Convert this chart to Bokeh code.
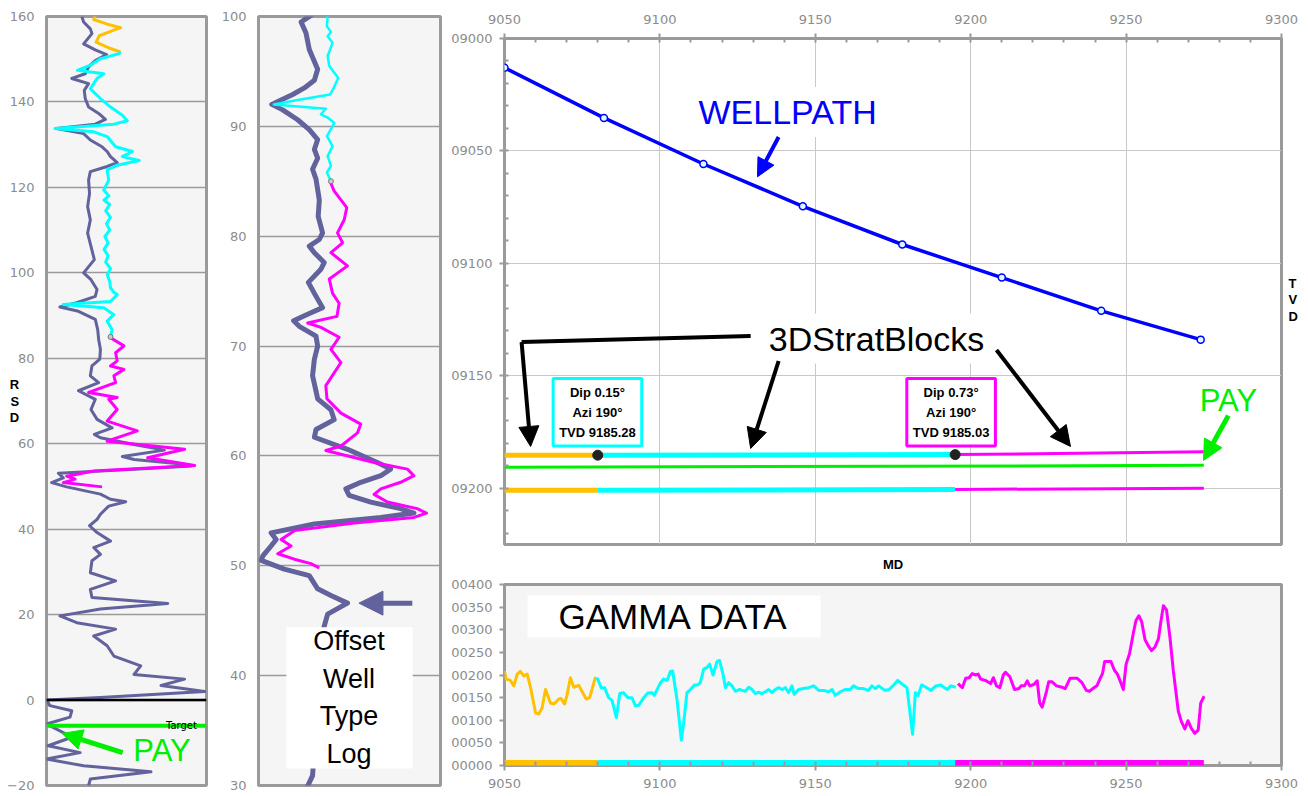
from bokeh.plotting import figure
from bokeh.layouts import row, column
from bokeh.models import (Range1d, Label, Arrow, NormalHead, Span, BoxAnnotation, LinearAxis,
                          CustomJSTickFormatter, SingleIntervalTicker, FixedTicker)
from bokeh.embed import file_html
from bokeh.resources import INLINE

# ---------------- data (depth, value) ----------------
# Left panel: RSD (relative stratigraphic depth) vs log value (0-100 scale)
LEFT_TYPELOG = [(160,22.1),(158.7,23.2),(157.1,27.4),(156,28.4),(153.6,23.2),(152.2,30.5),(151.1,37.5),
    (149.7,30.5),(148.2,26.3),(146.6,24.2),(145.5,15.8),(144.3,26.3),(142.7,23.6),(140.8,24.2),(138.8,26.3),
    (137.3,32.6),(135.9,36.8),(134.8,30.5),(133.8,6.3),(132.6,23.2),(131.1,27.4),(129.5,34.7),(128.4,37.9),
    (127.2,40),(125.8,44.2),(124.9,37.9),(123.7,27.4),(121.7,26.3),(118.6,26.9),(115.5,25.7),(112.4,27.4),
    (109.3,25.7),(106.2,27.8),(103.1,29.9),(100,23.2),(98.4,27.8),(96.1,31.6),(94.5,30.5),(93,18.9),(92,8.4),
    (91,20),(89.1,30.5),(86.7,32),(84.4,32.6),(82.1,33.7),(79.8,33.3),(78.2,28.4),(75.9,27.4),(74.3,32.6),
    (72.4,20),(70.4,30.5),(68,27.8),(65.7,31.6),(63.7,41),(62.2,29.9),(61.4,33.7),(59.8,54.7),(58.5,73.7),
    (57,47.4),(56.3,54.7),(55.2,86.3),(54.8,90.5),(54,54.7),(53.1,7.4),(52,10.5),(50.9,3.2),(49.9,12.6),
    (48.2,33.7),(47,40),(46.4,49.5),(45.4,38.9),(43.5,33.7),(42.3,31.6),(40.8,26.9),(39.2,31.6),(37.2,40),
    (35.7,29.5),(34.1,33.7),(32.6,28.4),(29.8,27.4),(27.9,43.2),(25.9,27.4),(24,28.4),(22.6,75.8),(21.3,33.7),
    (19.7,8.4),(18.1,18.9),(16.6,43.2),(15,29.5),(12.7,37.9),(10.3,42.1),(8,58.9),(6,54.7),(4.9,86.3),
    (3.4,71.6),(2,98.9),(0.6,33.7),(0,0),(-1.3,2.1),(-2.5,15.8),(-4,14.7),(-5.6,0),(-7.2,8.4),(-8.7,15.8),
    (-10.7,1),(-12.3,21),(-13.8,0),(-15.4,23.2),(-16.8,65.3),(-18.5,27.4),(-20,26.3)]
LEFT_ORANGE = [(160.2,30.5),(159.3,29.5),(158.2,38),(157.4,46.3),(156.5,40),(155.5,33),(154,31),
    (152.5,40),(151.7,46.3)]
LEFT_CYAN = [(151.7,46.3),(151.3,45.3),(150.1,33.7),(148.6,27.4),(147.4,19.4),(146.6,35.8),(145.5,31.6),
    (143.1,27.4),(140.8,33.7),(138.8,40),(136.9,47.4),(135.6,50.5),(134.8,42.1),(133.8,5.3),(133,29.5),
    (131.9,37.9),(129.5,43.2),(128.4,53.7),(127.2,47.4),(126.3,57.9),(125.2,44.2),(124.1,37.9),(121.7,38.9),
    (119.4,35.8),(118,39),(117,36),(116,39.5),(114.5,37),(113,40),(111.5,37.5),(110,39.5),(108.5,36.5),
    (107,38.5),(105.5,36),(104,38.5),(102.5,37),(101,40),(99.5,38),(98,39.5),(96.5,40),(95.5,42),(94.9,44.2),
    (93.3,40),(92.6,10.5),(91.8,35.8),(90.2,42.1),(88.7,37.9),(86.7,41),(85,40)]
LEFT_MAGENTA = [(84.8,40),(82.9,48.4),(81.3,43.2),(79.4,44.2),(78.2,40),(77.4,48.4),(75.9,42.1),(74.3,43.2),
    (72,26.3),(70.8,44.2),(70.4,38.9),(68,44.2),(65.3,37.9),(63,56.8),(60.6,37.9),(58.7,86.3),(56.7,63.2),
    (54.9,92.6),(53.6,29.5),(52.4,12.6),(51.7,17.9),(50.9,10.5),(49.9,34.7)]
TARGET_RSD = -6

# Middle panel: offset well type log (zoomed 30-100)
MID_TYPELOG = [(100.2,29.7),(99.5,23.4),(98.5,26.1),(97,27.9),(95.2,32.5),(94.2,30.7),(93.5,25.2),(92.9,18.8),
    (92.4,12.4),(92,7.3),(91.5,13.3),(90.6,21.5),(89.7,27.9),(88.8,32.5),(87.9,30.7),(87.1,32.5),(86.1,29.7),
    (85.2,31.6),(83.3,33.4),(81.8,32.8),(80.3,35.2),(79.7,33.4),(79.1,27.9),(78.5,30.7),(77.6,36.1),(77,34.3),
    (75.8,27.4),(74.8,30.7),(73.5,35.2),(72.9,27),(72.3,19.3),(71.8,22.4),(70.9,31.6),(70,32.5),(68.8,30.7),
    (67.3,29.7),(65.9,31.6),(65.2,32.5),(64.2,39.8),(63.3,41.6),(62.4,31.6),(61.7,30.7),(60.6,48.9),(59.4,65.3),
    (58.8,72.6),(58.2,67.2),(57.6,56.2),(57,48),(56.4,49.8),(55.8,61.7),(55.2,78.1),(54.8,85.4),(54.4,67.2),
    (53.8,30.7),(53,6.9),(52.4,9.7),(51.8,6.9),(50.9,2.4),(50.5,1.5),(49.7,14.2),(49.1,27.9),(47.9,32.5),
    (47.3,39.8),(46.6,48.9),(46.1,43.4),(45.6,38),(44.5,36.1),(42,34),(38,32),(34,31),(30.9,29.7),(29.8,26.6)]
MID_CYAN = [(100.2,38),(99.1,37.6),(98.6,39.8),(98.2,38),(97.6,40.7),(96.4,38),(95.5,38.9),(94.4,43.8),
    (93.6,41.6),(92.9,39.4),(92.4,21.5),(92,8.4),(91.6,37),(91.1,34.3),(90.8,38),(90.3,41.6),(89.1,37.6),
    (88.2,40.7),(87.3,38),(86.4,39.8),(85.8,37.6),(85,39.8)]
MID_MAGENTA = [(84.8,39.8),(84.1,41.6),(83.3,45.3),(82.6,48.5),(81.5,47.1),(80.3,43.4),(79.4,46.2),(78.5,39.8),
    (77.3,48.9),(76.1,38.9),(74.8,40.7),(73.9,44.3),(72.7,43.1),(72.1,27),(71.7,34.3),(70.8,44.3),(69.7,39.8),
    (68.5,45.3),(66.4,37),(65.2,37.6),(63.9,45.3),(62.9,56.2),(62.1,54.4),(60.9,45.3),(60.5,37),(59.4,63.5),
    (58.8,81.8),(58.2,85.4),(57.6,78.1),(57,67.2),(56.5,63.5),(55.8,70.8),(55.2,87.2),(54.8,92.3),(54.4,85.4),
    (53.9,52.6),(53.2,19.7),(52.4,12.4),(51.8,17.9),(51.1,10.6),(50.6,19.7),(50.2,28.8),(49.8,33.4)]

# Top-right: wellpath (MD, TVD)
WELL_MD = [9050, 9082, 9114, 9146, 9178, 9210, 9242, 9274]
WELL_TVD = [9013.0, 9035.3, 9055.8, 9074.6, 9091.6, 9106.3, 9121.1, 9133.9]

# 3D strat blocks
BLOCK_MD_START = [9050, 9080, 9195]
BLOCK_MD_END = [9080, 9195, 9275]
BLOCK_TOP_START = [9185.3, 9185.28, 9185.03]
BLOCK_TOP_END = [9185.28, 9185.03, 9183.8]
BLOCK_BASE_START = [9200.9, 9200.9, 9200.5]
BLOCK_BASE_END = [9200.9, 9200.5, 9200.0]
PAY_MD = [9050, 9275]
PAY_TVD = [9190.7, 9189.8]

# Gamma (MD, API)
GR_ORANGE = [(9050,209),(9050.5,191),(9051.9,188),(9053,176),(9054.1,202),(9055.1,208),(9056.2,198),
    (9057.3,202),(9058.4,172),(9060,116),(9061,114),(9062.1,127),(9063.2,168),(9064.8,138),(9065.9,136),
    (9067.5,147),(9068.2,148),(9069.3,136),(9070.1,155),(9071.2,194),(9072.3,173),(9073.9,177),(9075,163),
    (9076.3,147),(9077.4,150),(9079.3,196)]
GR_CYAN = [(9079.8,194),(9081.1,172),(9082.2,172),(9083.5,150),(9084.6,144),(9086,106),(9087.1,159),
    (9088.2,161),(9089.7,150),(9091,150),(9092.1,132),(9093.2,133),(9094.8,150),(9096.1,160),(9097.5,161),
    (9098.2,155),(9100.2,183),(9101.2,191),(9102.3,188),(9103.4,208),(9104.1,209),(9105.5,146),(9106.9,56),
    (9107.7,97),(9108.7,161),(9109.8,168),(9111.1,178),(9112.2,178),(9113,183),(9114.1,213),(9115.2,217),
    (9116,224),(9117.1,200),(9118.4,230),(9119.2,232),(9120.3,202),(9121.1,172),(9122.1,183),(9123.2,176),
    (9124.3,164),(9125.7,168),(9126.4,166),(9127.5,164),(9128.6,173),(9129.6,168),(9130.7,159),(9131.8,162),
    (9132.8,159),(9133.9,163),(9135,168),(9136.1,161),(9137.1,168),(9138.2,172),(9139.3,168),(9140.4,172),
    (9141.4,161),(9142.5,176),(9143.2,157),(9144.6,168),(9146.2,170),(9147.9,172),(9149.5,176),(9151.1,166),
    (9152.7,166),(9154.3,163),(9155.4,168),(9156.4,155),(9158.1,163),(9159.6,168),(9161.2,168),(9162.3,176),
    (9163.9,170),(9165.5,170),(9167.1,166),(9168.2,176),(9169.3,170),(9170.4,176),(9172.4,166),(9173.8,168),
    (9175.4,179),(9176.5,188),(9178.1,179),(9179.5,172),(9181.3,69),(9182.2,161),(9183.1,155),(9184.2,178),
    (9185.6,173),(9187.2,166),(9188.8,176),(9190.4,178),(9191.5,172),(9192.5,168),(9193.6,176),(9195.2,173)]
GR_MAGENTA = [(9195.9,181),(9197.3,172),(9198.4,193),(9199.5,194),(9200.5,203),(9201.6,200),(9202.4,202),
    (9203.2,191),(9204.8,188),(9206.4,181),(9207.3,194),(9208.3,176),(9209.4,172),(9210.5,200),(9211.2,206),
    (9212.6,196),(9214.1,168),(9215.5,170),(9216.2,176),(9217.3,176),(9218.2,187),(9219,176),(9220.3,179),
    (9221.4,187),(9222.2,138),(9223,129),(9224.4,164),(9225.1,185),(9226.2,185),(9227.6,176),(9229.4,173),
    (9230.4,170),(9232,193),(9234.2,193),(9235.8,183),(9237.2,166),(9238.2,164),(9239.3,170),(9240.6,176),
    (9241.7,193),(9242.4,203),(9243.1,230),(9244,230),(9245.1,230),(9246.2,211),(9247.2,202),(9248.3,183),
    (9249.1,168),(9250,224),(9251.1,247),(9252.4,295),(9253.2,321),(9254.1,331),(9255,318),(9256.1,278),
    (9257.1,265),(9258.2,254),(9259.3,262),(9260.4,280),(9261.1,314),(9262,353),(9263,344),(9264.1,284),
    (9265.2,209),(9266.8,120),(9267.8,97),(9268.9,81),(9269.9,99),(9271,82),(9272.1,71),(9273.2,78),
    (9274,138),(9275.1,153)]

BLOCK_LABELS = ["Dip 0.15°\nAzi 190°\nTVD 9185.28", "Dip 0.73°\nAzi 190°\nTVD 9185.03"]

# ---------------- styles ----------------
GRAY = "#9a9a9a"
TICK_TXT = "#8c8c8c"
PURPLE = "#62629c"
CYAN = "#00ffff"
MAGENTA = "#ff00ff"
ORANGE = "#ffc000"
GREEN = "#00ee00"
BLUE = "#0000ff"
BLOCK_COLORS = [ORANGE, CYAN, MAGENTA]
FONT = "Liberation Sans"
PAD5 = CustomJSTickFormatter(code="return String(Math.round(tick)).padStart(5, '0');")


def base_style(p, bg):
    p.background_fill_color = bg
    p.border_fill_color = "white"
    p.outline_line_color = GRAY
    p.outline_line_width = 3
    p.outline_line_alpha = 1.0


def axis_style(ax, standoff, tick_out=0, minor_in=0):
    ax.axis_line_color = None
    ax.major_label_text_font = "DejaVu Sans"
    ax.major_label_text_font_size = "13px"
    ax.major_label_text_color = TICK_TXT
    ax.major_label_standoff = standoff
    ax.major_tick_line_color = GRAY if tick_out else None
    ax.major_tick_line_width = 2
    ax.major_tick_out = tick_out
    ax.major_tick_in = 0
    ax.minor_tick_line_color = GRAY if minor_in else None
    ax.minor_tick_line_width = 2
    ax.minor_tick_in = minor_in
    ax.minor_tick_out = 0


def axis_title(ax, text, standoff, lh=1.2):
    ax.axis_label = text
    ax.axis_label_standoff = standoff
    ax.axis_label_text_font = FONT
    ax.axis_label_text_font_size = "13px"
    ax.axis_label_text_font_style = "bold"
    ax.axis_label_text_color = "black"
    ax.axis_label_text_line_height = lh


def label_axis(p, side, text, standoff, lh=1.2):
    ax = LinearAxis(ticker=FixedTicker(ticks=[]), axis_line_color=None,
                    major_tick_line_color=None, minor_tick_line_color=None,
                    major_label_standoff=0, major_tick_out=0, major_tick_in=0)
    axis_title(ax, text, standoff, lh)
    if side in ("left", "right"):
        ax.axis_label_orientation = "horizontal"
    p.add_layout(ax, side)


def lab(p, x, y, text, size, color="black", bold=False, bg=None, border=None, pad=0,
        lh=1.2, font=FONT, align="center"):
    kw = {}
    if bg:
        kw["background_fill_color"] = bg
        kw["background_fill_alpha"] = 1.0
    if border:
        kw["border_line_color"] = border
        kw["border_line_width"] = 3
    l = Label(x=x, y=y, text=text, text_font=font, text_font_size=f"{size}px",
              text_color=color, text_font_style="bold" if bold else "normal",
              text_align=align, text_baseline="middle", text_line_height=lh,
              padding=pad, **kw)
    p.add_layout(l)


def draw(p, pts, color, width):
    p.line([v for d, v in pts], [d for d, v in pts], line_color=color, line_width=width,
           line_join="round")


def arrow(p, x0, y0, x1, y1, color, width, head=None):
    end = NormalHead(size=head, fill_color=color, line_color=color, line_width=1) if head else None
    p.add_layout(Arrow(end=end, x_start=x0, y_start=y0, x_end=x1, y_end=y1,
                       line_color=color, line_width=width))


# ---------------- left panel ----------------
pl = figure(width=218, height=796, x_range=Range1d(0, 100), y_range=Range1d(-20, 160), title=None,
            x_axis_location=None, output_backend="svg", toolbar_location=None,
            min_border_left=46, min_border_right=12, min_border_top=16, min_border_bottom=11)
base_style(pl, "#f5f5f5")
pl.yaxis.ticker = SingleIntervalTicker(interval=20, num_minor_ticks=0)
axis_style(pl.yaxis, 12)
axis_title(pl.yaxis[0], "R\nS\nD", -15, lh=1.1)
pl.yaxis.axis_label_orientation = "horizontal"
pl.xgrid.visible = False
pl.ygrid.grid_line_color = GRAY
pl.ygrid.grid_line_width = 1.5

draw(pl, LEFT_TYPELOG, PURPLE, 3)
draw(pl, LEFT_ORANGE, ORANGE, 3)
draw(pl, LEFT_CYAN, CYAN, 3)
draw(pl, LEFT_MAGENTA, MAGENTA, 3)
pl.scatter([LEFT_CYAN[-1][1]], [LEFT_CYAN[-1][0]], size=5, fill_color="#cccccc",
           line_color="#777777", line_width=1)
pl.add_layout(Span(location=0, dimension="width", line_color="black", line_width=2.5))
pl.add_layout(Span(location=TARGET_RSD, dimension="width", line_color=GREEN, line_width=4))
lab(pl, 94, TARGET_RSD, "Target", 10, font="DejaVu Sans", align="right")
lab(pl, 72.2, -11.8, "PAY", 31, color=GREEN)
arrow(pl, 47.6, -12.3, 9.7, -7.8, GREEN, 5, head=20)

# ---------------- middle panel ----------------
pm = figure(width=226, height=796, x_range=Range1d(0, 100), y_range=Range1d(30, 100), title=None,
            x_axis_location=None, output_backend="svg", toolbar_location=None,
            min_border_left=39, min_border_right=4, min_border_top=16, min_border_bottom=11)
base_style(pm, "#f5f5f5")
pm.yaxis.ticker = SingleIntervalTicker(interval=10, num_minor_ticks=0)
axis_style(pm.yaxis, 12)
pm.xgrid.visible = False
pm.ygrid.grid_line_color = GRAY
pm.ygrid.grid_line_width = 1.5

draw(pm, MID_TYPELOG, PURPLE, 5)
draw(pm, MID_CYAN, CYAN, 2.5)
draw(pm, MID_MAGENTA, MAGENTA, 3)
pm.scatter([MID_CYAN[-1][1]], [MID_CYAN[-1][0]], size=5, fill_color="#cccccc",
           line_color="#777777", line_width=1)
pm.add_layout(BoxAnnotation(left=15.3, right=84.7, bottom=31.55, top=44.4, fill_color="white",
                            fill_alpha=1.0, line_color=None))
lab(pm, 49.7, 38.0, "Offset\nWell\nType\nLog", 27, lh=1.25)
arrow(pm, 84.5, 46.6, 55.2, 46.6, PURPLE, 5, head=24)

# ---------------- top right: wellpath + strat blocks ----------------
pt = figure(width=864, height=574, x_range=Range1d(9050, 9300), y_range=Range1d(9225, 9000),
            title=None, x_axis_location="above", output_backend="svg", toolbar_location=None,
            min_border_left=60, min_border_right=27, min_border_top=38, min_border_bottom=28)
base_style(pt, "white")
pt.xaxis.ticker = SingleIntervalTicker(interval=50, num_minor_ticks=5)
pt.yaxis.ticker = SingleIntervalTicker(interval=50, num_minor_ticks=5)
pt.yaxis.formatter = PAD5
axis_style(pt.xaxis, 10, tick_out=5, minor_in=4)
axis_style(pt.yaxis, 7, tick_out=5, minor_in=4)
pt.grid.grid_line_color = "#c8c8c8"
pt.grid.grid_line_width = 1
label_axis(pt, "below", "MD", 12)
label_axis(pt, "right", " \nT\nV\nD", 7, lh=1.1)

for i in range(len(BLOCK_MD_START)):
    w = 3 if i == 2 else 5
    pt.line([BLOCK_MD_START[i], BLOCK_MD_END[i]], [BLOCK_TOP_START[i], BLOCK_TOP_END[i]],
            line_color=BLOCK_COLORS[i], line_width=w)
    pt.line([BLOCK_MD_START[i], BLOCK_MD_END[i]], [BLOCK_BASE_START[i], BLOCK_BASE_END[i]],
            line_color=BLOCK_COLORS[i], line_width=w)
pt.line(PAY_MD, PAY_TVD, line_color=GREEN, line_width=3)
pt.scatter(BLOCK_MD_START[1:], BLOCK_TOP_START[1:], size=10, fill_color="#222222", line_color="#222222")

pt.line(WELL_MD, WELL_TVD, line_color=BLUE, line_width=3.5)
pt.scatter(WELL_MD, WELL_TVD, size=7, fill_color="#d8ffff", line_color=BLUE, line_width=1.5)

lab(pt, 9141.1, 9032.7, "WELLPATH", 34, color=BLUE, bg="white", pad=6)
arrow(pt, 9138.2, 9043.8, 9131.4, 9061.5, BLUE, 4, head=18)
lab(pt, 9169.7, 9133.4, "3DStratBlocks", 34, bg="white", pad=6)
arrow(pt, 9129.2, 9132.3, 9055.5, 9135.0, "black", 4)
arrow(pt, 9055.5, 9135.0, 9058.4, 9181.4, "black", 4, head=20)
arrow(pt, 9138.2, 9143.4, 9129.2, 9182.3, "black", 4, head=20)
arrow(pt, 9208.3, 9138.5, 9232.1, 9181.4, "black", 4, head=20)
lab(pt, 9079.9, 9166.2, BLOCK_LABELS[0], 13, bold=True, bg="white", border=CYAN, pad=6, lh=1.35)
lab(pt, 9193.7, 9166.2, BLOCK_LABELS[1], 13, bold=True, bg="white", border=MAGENTA, pad=6, lh=1.35)
lab(pt, 9282.9, 9160.9, "PAY", 31, color=GREEN)
arrow(pt, 9282.9, 9167.7, 9274.9, 9187.6, GREEN, 5, head=20)

# ---------------- bottom right: gamma ----------------
pb = figure(width=864, height=222, x_range=Range1d(9050, 9300), y_range=Range1d(0, 400),
            title=None, output_backend="svg", toolbar_location=None,
            min_border_left=60, min_border_right=27, min_border_top=10, min_border_bottom=31)
base_style(pb, "#f5f5f5")
pb.xaxis.ticker = SingleIntervalTicker(interval=50, num_minor_ticks=5)
pb.yaxis.ticker = SingleIntervalTicker(interval=50, num_minor_ticks=0)
pb.yaxis.formatter = PAD5
axis_style(pb.xaxis, 8, tick_out=5, minor_in=4)
axis_style(pb.yaxis, 7, tick_out=5)
pb.grid.visible = False

for i in range(len(BLOCK_MD_START)):
    pb.line([BLOCK_MD_START[i], BLOCK_MD_END[i]], [0, 0], line_color=BLOCK_COLORS[i], line_width=11)
for pts, c in [(GR_ORANGE, ORANGE), (GR_CYAN, CYAN), (GR_MAGENTA, MAGENTA)]:
    pb.line([m for m, v in pts], [v for m, v in pts], line_color=c, line_width=3, line_join="round")
pb.add_layout(BoxAnnotation(left=9057.4, right=9151.7, bottom=282.9, top=375.7, fill_color="white",
                            fill_alpha=1.0, line_color=None))
lab(pb, 9104.4, 329.3, "GAMMA DATA", 35)

layout = row(pl, pm, column(pt, pb))
open("out.html", "w").write(file_html(layout, INLINE))
